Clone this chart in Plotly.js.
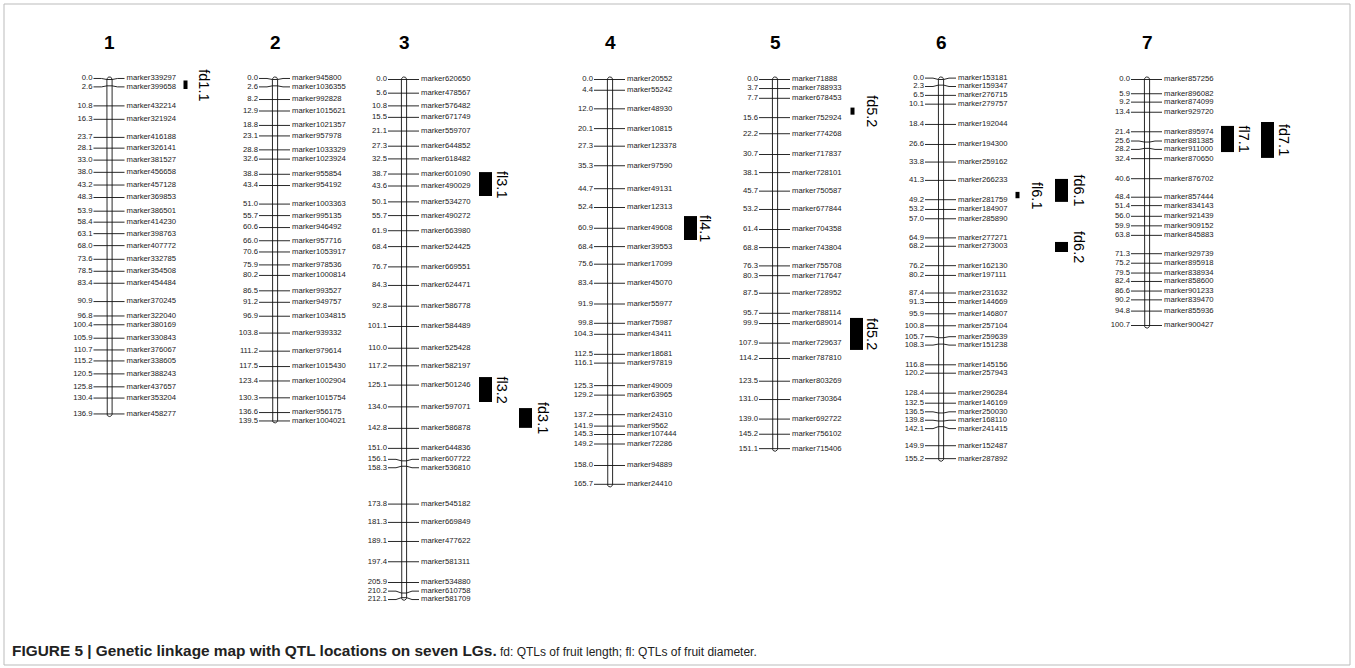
<!DOCTYPE html>
<html><head><meta charset="utf-8">
<script src="https://cdn.plot.ly/plotly-3.0.1.min.js"></script>
<style>html,body{margin:0;padding:0;background:#fff;}#chart{width:1355px;height:668px;}</style>
</head><body><div id="chart"></div>
<script>
// ---------------- DATA ----------------
const lgNames = ["1","2","3","4","5","6","7"];

const lg1Pos = [0.0,2.6,10.8,16.3,23.7,28.1,33.0,38.0,43.2,48.3,53.9,58.4,63.1,68.0,73.6,78.5,83.4,90.9,96.8,100.4,105.9,110.7,115.2,120.5,125.8,130.4,136.9];
const lg1Markers = ["marker339297","marker399658","marker432214","marker321924","marker416188","marker326141","marker381527","marker456658","marker457128","marker369853","marker386501","marker414230","marker398763","marker407772","marker332785","marker354508","marker454484","marker370245","marker322040","marker380169","marker330843","marker376067","marker338605","marker388243","marker437657","marker353204","marker458277"];

const lg2Pos = [0.0,2.6,8.2,12.9,18.8,23.1,28.8,32.6,38.8,43.4,51.0,55.7,60.6,66.0,70.6,75.9,80.2,86.5,91.2,96.9,103.8,111.2,117.5,123.4,130.3,136.6,139.5];
const lg2Markers = ["marker945800","marker1036355","marker992828","marker1015621","marker1021357","marker957978","marker1033329","marker1023924","marker955854","marker954192","marker1003363","marker995135","marker946492","marker957716","marker1053917","marker978536","marker1000814","marker993527","marker949757","marker1034815","marker939332","marker979614","marker1015430","marker1002904","marker1015754","marker956175","marker1004021"];

const lg3Pos = [0.0,5.6,10.8,15.5,21.1,27.3,32.5,38.7,43.6,50.1,55.7,61.9,68.4,76.7,84.3,92.8,101.1,110.0,117.2,125.1,134.0,142.8,151.0,156.1,158.3,173.8,181.3,189.1,197.4,205.9,210.2,212.1];
const lg3Markers = ["marker620650","marker478567","marker576482","marker671749","marker559707","marker644852","marker618482","marker601090","marker490029","marker534270","marker490272","marker663980","marker524425","marker669551","marker624471","marker586778","marker584489","marker525428","marker582197","marker501246","marker597071","marker586878","marker644836","marker607722","marker536810","marker545182","marker669849","marker477622","marker581311","marker534880","marker610758","marker581709"];

const lg4Pos = [0.0,4.4,12.0,20.1,27.3,35.3,44.7,52.4,60.9,68.4,75.6,83.4,91.9,99.8,104.3,112.5,116.1,125.3,129.2,137.2,141.9,145.3,149.2,158.0,165.7];
const lg4Markers = ["marker20552","marker55242","marker48930","marker10815","marker123378","marker97590","marker49131","marker12313","marker49608","marker39553","marker17099","marker45070","marker55977","marker75987","marker43411","marker18681","marker97819","marker49009","marker63965","marker24310","marker9562","marker107444","marker72286","marker94889","marker24410"];

const lg5Pos = [0.0,3.7,7.7,15.6,22.2,30.7,38.1,45.7,53.2,61.4,68.8,76.3,80.3,87.5,95.7,99.9,107.9,114.2,123.5,131.0,139.0,145.2,151.1];
const lg5Markers = ["marker71888","marker788933","marker678453","marker752924","marker774268","marker717837","marker728101","marker750587","marker677844","marker704358","marker743804","marker755708","marker717647","marker728952","marker788114","marker689014","marker729637","marker787810","marker803269","marker730364","marker692722","marker756102","marker715406"];

const lg6Pos = [0.0,2.3,6.5,10.1,18.4,26.6,33.8,41.3,49.2,53.2,57.0,64.9,68.2,76.2,80.2,87.4,91.3,95.9,100.8,105.7,108.3,116.8,120.2,128.4,132.5,136.5,139.8,142.1,149.9,155.2];
const lg6Markers = ["marker153181","marker159347","marker276715","marker279757","marker192044","marker194300","marker259162","marker266233","marker281759","marker184907","marker285890","marker277271","marker273003","marker162130","marker197111","marker231632","marker144669","marker146807","marker257104","marker259639","marker151238","marker145156","marker257943","marker296284","marker146169","marker250030","marker168110","marker241415","marker152487","marker287892"];

const lg7Pos = [0.0,5.9,9.2,13.4,21.4,25.6,28.2,32.4,40.6,48.4,51.4,56.0,59.9,63.8,71.3,75.2,79.5,82.4,86.6,90.2,94.8,100.7];
const lg7Markers = ["marker857256","marker896082","marker874099","marker929720","marker895974","marker881385","marker911000","marker870650","marker876702","marker857444","marker834143","marker921439","marker909152","marker845883","marker929739","marker895918","marker838934","marker858600","marker901233","marker839470","marker855936","marker900427"];

// QTL intervals (cM)
const qtlNames = ["fd1.1","fl3.1","fl3.2","fd3.1","fl4.1","fd5.2","fd5.2","fl6.1","fd6.1","fd6.2","fl7.1","fd7.1"];
const qtlLG    = ["1","3","3","3","4","5","5","6","6","6","7","7"];
const qtlStart = [0.4,37.9,121.8,134.5,55.9,11.5,97.6,46.0,40.7,66.5,19.0,17.4];
const qtlEnd   = [3.9,47.7,132.0,142.6,65.7,14.4,110.7,48.6,50.1,70.6,29.7,32.1];

const captionBold = "FIGURE 5 | Genetic linkage map with QTL locations on seven LGs.";
const captionText = " fd: QTLs of fruit length; fl: QTLs of fruit diameter.";

// ---------------- LAYOUT / STYLE ----------------
const W = 1355, H = 668;
const PX_PER_CM = 2.443, Y0_PX = 79.5;
const lgX = [109.5, 275, 404, 610, 775, 941, 1147];
const qtlX = [185.5, 485.5, 485.5, 525.5, 690.5, 852.5, 856.5, 1017.5, 1061.5, 1061.5, 1227.5, 1267.5];
const qtlW = [4, 13, 13, 13, 13, 4, 13, 4, 13, 13, 13, 13];
const qtlLabelX = [204.5, 502, 502, 543, 705, 872, 872, 1037, 1079, 1079, 1244.5, 1284];
const HALF = 2.6;             // half width of the chromosome bar (px)
const MIN_GAP = 8.4 / PX_PER_CM; // min label spacing in cM
const FONT = "Liberation Sans, Arial, Helvetica, sans-serif";

const lgs = [
  [lg1Pos, lg1Markers],[lg2Pos, lg2Markers],[lg3Pos, lg3Markers],[lg4Pos, lg4Markers],
  [lg5Pos, lg5Markers],[lg6Pos, lg6Markers],[lg7Pos, lg7Markers]
];

function spread(pos, gap){
  const clusters = pos.map(p => ({n:1, sum:p}));
  const top = c => c.sum/c.n - (c.n-1)*gap/2;
  let changed = true;
  while (changed){
    changed = false;
    for (let k=0;k<clusters.length-1;k++){
      const a = clusters[k], b = clusters[k+1];
      if (top(b) - (top(a) + (a.n-1)*gap) < gap - 1e-9){
        a.n += b.n; a.sum += b.sum; clusters.splice(k+1,1); changed = true; break;
      }
    }
  }
  const out = [];
  clusters.forEach(c => { const t = top(c); for (let j=0;j<c.n;j++) out.push(t + j*gap); });
  return out;
}

const traces = [];
const capR = HALF / PX_PER_CM;
lgs.forEach(([pos, names], k) => {
  const bx = lgX[k];
  const lab = spread(pos, MIN_GAP);
  const cx = [], cy = [];
  pos.forEach((t, i) => {
    const l = lab[i];
    cx.push(bx-16, bx-8, bx-HALF, bx+HALF, bx+8, bx+15, null);
    cy.push(l, l, t, t, l, l, null);
  });
  traces.push({type:'scatter', mode:'lines', x:cx, y:cy, line:{color:'#111', width:0.9}, hoverinfo:'skip'});
  const end = pos[pos.length-1];
  const ox = [], oy = [];
  ox.push(bx-HALF); oy.push(0);
  ox.push(bx-HALF); oy.push(end);
  for (let a=180; a>=0; a-=15){ const r=a*Math.PI/180; ox.push(bx + HALF*Math.cos(r)); oy.push(end + capR*Math.sin(r)); }
  ox.push(bx+HALF); oy.push(0);
  for (let a=0; a<=180; a+=15){ const r=a*Math.PI/180; ox.push(bx + HALF*Math.cos(r)); oy.push(-capR*Math.sin(r)); }
  traces.push({type:'scatter', mode:'lines', x:ox, y:oy, line:{color:'#111', width:0.9}, hoverinfo:'skip'});
  traces.push({type:'scatter', mode:'text', x:pos.map(()=>bx-17), y:lab, text:pos.map(p=>p.toFixed(1)),
    textposition:'middle left', textfont:{family:FONT, size:7.7, color:'#1a1a1a'}, hoverinfo:'skip'});
  traces.push({type:'scatter', mode:'text', x:names.map(()=>bx+17), y:lab, text:names,
    textposition:'middle right', textfont:{family:FONT, size:7.7, color:'#1a1a1a'}, hoverinfo:'skip'});
});

traces.push({type:'bar', x:qtlX, base:qtlStart, y:qtlStart.map((s,i)=>qtlEnd[i]-s), width:qtlW,
  marker:{color:'#000', line:{width:0}}, hoverinfo:'skip'});

const annotations = [];
lgNames.forEach((n,k) => annotations.push({xref:'x', yref:'paper', x:lgX[k], y:1-42/H, text:'<b>'+n+'</b>',
  showarrow:false, xanchor:'center', yanchor:'middle', font:{family:FONT, size:19, color:'#000'}}));
qtlNames.forEach((n,i) => annotations.push({xref:'x', yref:'y', x:qtlLabelX[i], y:(qtlStart[i]+qtlEnd[i])/2,
  text:n, textangle:90, showarrow:false, xanchor:'center', yanchor:'middle', font:{family:FONT, size:14.5, color:'#000'}}));
annotations.push({xref:'paper', yref:'paper', x:10/W, y:1-650/H, xanchor:'left', yanchor:'middle', showarrow:false,
  text:'<b>'+captionBold+'</b><span style="font-size:12px">'+captionText+'</span>',
  font:{family:FONT, size:15.4, color:'#222'}});

const layout = {
  width:W, height:H, margin:{l:0,r:0,t:0,b:0}, paper_bgcolor:'#fff', plot_bgcolor:'#fff',
  showlegend:false, hovermode:false, barmode:'overlay',
  xaxis:{range:[0,W], visible:false, fixedrange:true},
  yaxis:{range:[(H-Y0_PX)/PX_PER_CM, -Y0_PX/PX_PER_CM], visible:false, fixedrange:true},
  annotations:annotations,
  shapes:[{type:'rect', xref:'paper', yref:'paper', x0:4/W, x1:1350/W, y0:1-4/H, y1:1-665/H, line:{color:'#bbb', width:1}}]
};
Plotly.newPlot('chart', traces, layout, {displayModeBar:false, staticPlot:true});
</script></body></html>
